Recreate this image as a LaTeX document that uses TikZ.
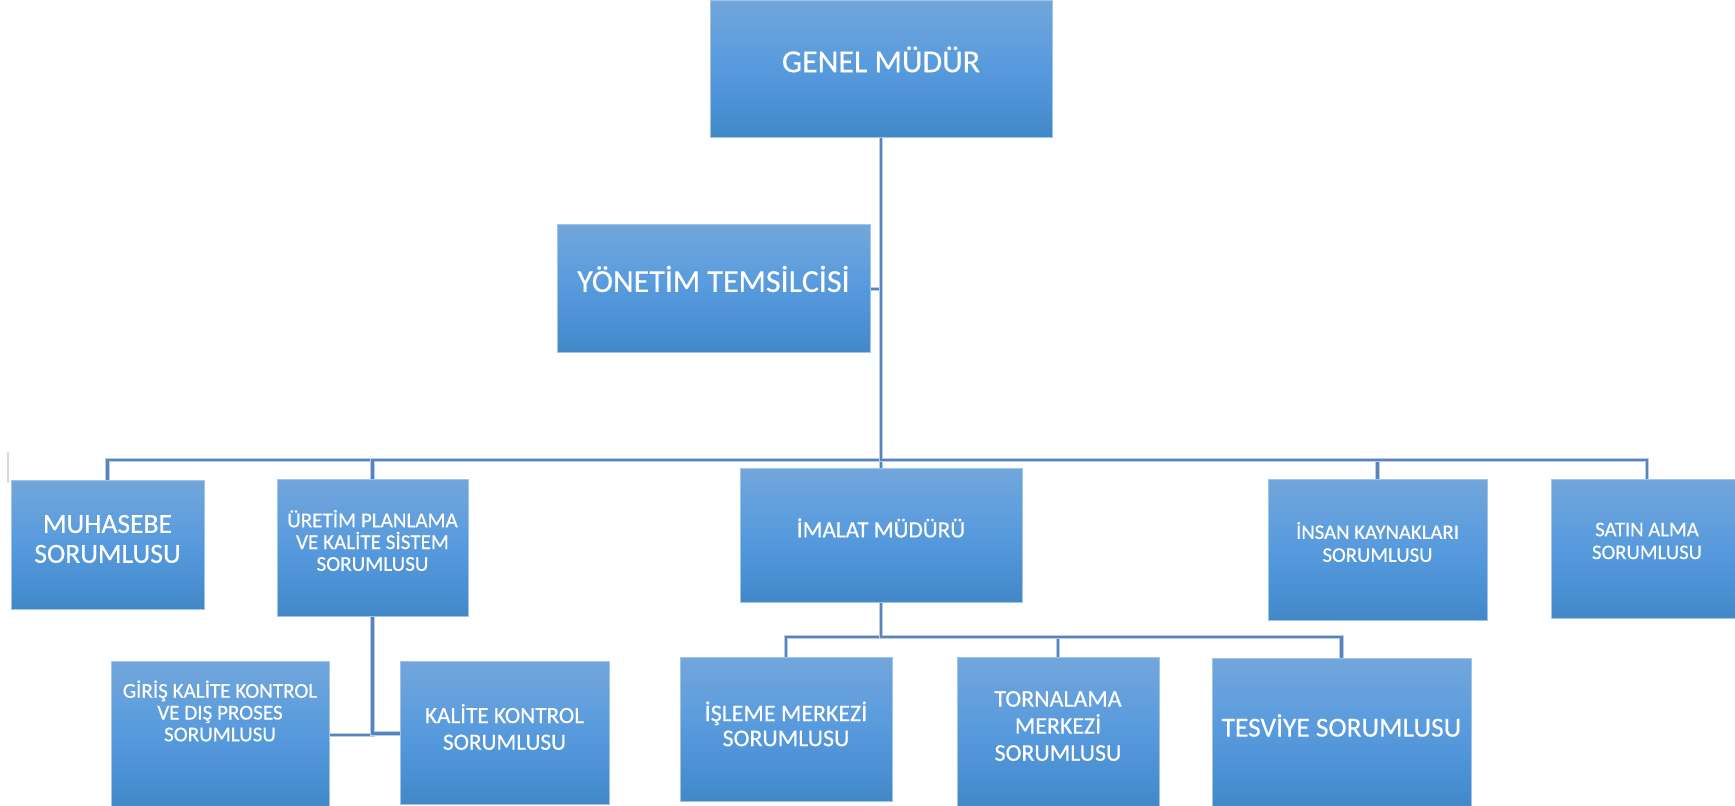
\documentclass[tikz,border=0pt]{standalone}
\usepackage{fontspec}
\setmainfont{Carlito}[FakeBold=0.4]
\usepackage{tikz}
\usetikzlibrary{shapes.misc}
\definecolor{boxtop}{RGB}{114,166,220}
\definecolor{boxmid}{RGB}{86,154,221}
\definecolor{boxbot}{RGB}{66,136,201}
\definecolor{boxedge}{RGB}{160,196,232}
\definecolor{linecore}{RGB}{88,132,188}
\definecolor{lineedge}{RGB}{185,205,230}
\tikzstyle{box} = [rectangle, draw=boxedge, line width=0.1mm, top color=boxtop, bottom color=boxbot, middle color=boxmid, inner sep=0pt]
\tikzstyle{tx} = [text=white, align=center, inner sep=0pt]
\tikzstyle{conn} = [draw=lineedge, double=linecore, double distance=0.22mm, line width=0.12mm]
\tikzstyle{fa} = [font=\fontsize{9.1}{11}\selectfont]
\tikzstyle{fb} = [font=\fontsize{7.85}{8.5}\selectfont]
\tikzstyle{fc} = [font=\fontsize{6.0}{6.2}\selectfont]
\tikzstyle{fd} = [font=\fontsize{6.6}{8}\selectfont]
\tikzstyle{fe} = [font=\fontsize{5.9}{6.5}\selectfont]
\tikzstyle{ff} = [font=\fontsize{6.6}{7.6}\selectfont]
\tikzstyle{fg} = [font=\fontsize{6.8}{7.1}\selectfont]
\tikzstyle{fh} = [font=\fontsize{6.8}{7.7}\selectfont]
\tikzstyle{fi} = [font=\fontsize{7.8}{9}\selectfont]

\begin{document}
\begin{tikzpicture}[x=0.1mm, y=-0.1mm]
    \path[use as bounding box, fill=white] (0,0) rectangle (1735,806);

    % top level
    \node[box, minimum width=34.2mm, minimum height=13.7mm,
          label={[tx, fa, yshift=1mm]center:GENEL MÜDÜR}] (genel) at (881,69.5) {};
    \node[box, minimum width=31.3mm, minimum height=12.8mm,
          label={[tx, fa, yshift=1mm]center:YÖNETİM TEMSİLCİSİ}] (yonetim) at (713.5,289) {};

    % second row
    \node[box, minimum width=19.3mm, minimum height=12.9mm,
          label={[tx, fb, yshift=0.65mm]center:MUHASEBE\\SORUMLUSU}] (muhasebe) at (107.5,545.5) {};
    \node[box, minimum width=19.1mm, minimum height=13.7mm,
          label={[tx, fc, yshift=0.8mm]center:ÜRETİM PLANLAMA\\VE KALİTE SİSTEM\\SORUMLUSU}] (uretim) at (372.5,548.5) {};
    \node[box, minimum width=28.2mm, minimum height=13.4mm,
          label={[tx, fd, yshift=0.8mm]center:İMALAT MÜDÜRÜ}] (imalat) at (881,536) {};
    \node[box, minimum width=21.9mm, minimum height=14.1mm,
          label={[tx, fe, yshift=0.85mm]center:İNSAN KAYNAKLARI\\SORUMLUSU}] (insan) at (1377.5,550.5) {};
    \node[box, minimum width=19.2mm, minimum height=13.9mm,
          label={[tx, fe, yshift=0.85mm]center:SATIN ALMA\\SORUMLUSU}] (satin) at (1647,549.5) {};

    % third row
    \node[box, minimum width=21.8mm, minimum height=14.6mm,
          label={[tx, fc, yshift=2.4mm]center:GİRİŞ KALİTE KONTROL\\VE DIŞ PROSES\\SORUMLUSU}] (giris) at (220,735) {};
    \node[box, minimum width=20.9mm, minimum height=14.3mm,
          label={[tx, ff, yshift=0.65mm]center:KALİTE KONTROL\\SORUMLUSU}] (kalite) at (504.5,733.5) {};
    \node[box, minimum width=21.2mm, minimum height=14.4mm,
          label={[tx, fg, yshift=0.6mm]center:İŞLEME MERKEZİ\\SORUMLUSU}] (isleme) at (786,730) {};
    \node[box, minimum width=20.2mm, minimum height=15.0mm,
          label={[tx, fh, yshift=0.7mm]center:TORNALAMA\\MERKEZİ\\SORUMLUSU}] (tornalama) at (1058,733) {};
    \node[box, minimum width=25.9mm, minimum height=14.9mm,
          label={[tx, fi, yshift=0.8mm]center:TESVİYE SORUMLUSU}] (tesviye) at (1341.5,733.5) {};

    \coordinate (bus) at (0,460);
    \coordinate (subbus) at (0,637);

    \draw[conn] (yonetim.east) -- (yonetim.east -| genel.south);
    \draw[conn] (genel.south) -- (imalat.north);
    \foreach \n in {muhasebe,uretim,insan,satin}
        \draw[conn] (genel.south) |- (bus -| \n.north) -- (\n.north);
    \foreach \n in {isleme,tornalama,tesviye}
        \draw[conn] (imalat.south) |- (subbus -| \n.north) -- (\n.north);
    \draw[conn] (uretim.south) |- (giris.east);
    \draw[conn] (uretim.south) |- (kalite.west);

    %\draw (0,0) grid (1735,806);
    \draw[black!15, line width=0.25mm] (8,452) -- (8,483);
\end{tikzpicture}
\end{document}
